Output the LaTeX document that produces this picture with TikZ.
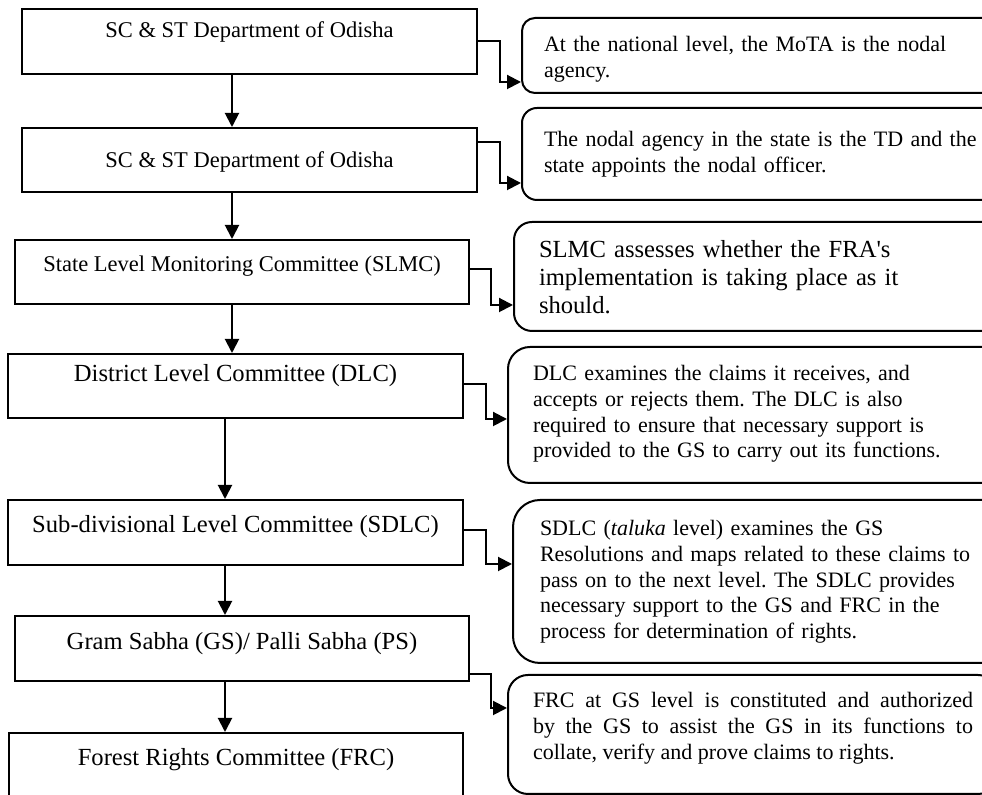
\documentclass[tikz,border=0pt]{standalone}
\usepackage{fontspec}
\setmainfont{Liberation Serif}
\usetikzlibrary{arrows.meta}
\tikzstyle{stage} = [draw,line width=1pt,inner sep=0pt,anchor=north west]
\tikzstyle{note} = [draw,line width=1pt,inner ysep=0pt,anchor=north west,align=left,text width=240pt]
\tikzstyle{flow} = [line width=1pt,->,>={Triangle[length=7pt,width=7pt]}]
\newcommand{\smallfont}{\fontsize{11.25}{12.8}\selectfont}
\newcommand{\notefont}{\fontsize{11}{12.8}\selectfont\frenchspacing}
\newcommand{\bigfont}{\fontsize{12.3}{13.8}\selectfont\frenchspacing}

\begin{document}
\begin{tikzpicture}[x=0.5pt,y=-0.5pt]
  \useasboundingbox (0,0) rectangle (982,795);
  \clip (0,0) rectangle (982,795);

  % levels
  \node[stage,font=\smallfont,minimum width=227.5pt,text height=14.5pt,text depth=18pt] (b1) at (21,8) {SC \& ST Department of Odisha};
  \node[stage,font=\smallfont,minimum width=227.5pt,text height=20pt,text depth=12pt] (b2) at (21,127) {SC \& ST Department of Odisha};
  \node[stage,font=\smallfont,minimum width=227pt,text height=16pt,text depth=16pt] (b3) at (14,239) {State Level Monitoring Committee (SLMC)};
  \node[stage,font=\bigfont,minimum width=227.5pt,text height=14pt,text depth=18pt] (b4) at (7,353) {District Level Committee (DLC)};
  \node[stage,font=\bigfont,minimum width=227.5pt,text height=16.5pt,text depth=16pt] (b5) at (7,499) {Sub-divisional Level Committee (SDLC)};
  \node[stage,font=\bigfont,minimum width=227pt,text height=17pt,text depth=15.5pt] (b6) at (14,615) {Gram Sabha (GS)/ Palli Sabha (PS)};
  \node[stage,font=\bigfont,minimum width=227pt,text height=16.5pt,text depth=18.5pt] (b7) at (8,732) {Forest Rights Committee (FRC)};

  % remarks
  \node[note,font=\notefont,inner xsep=11pt,rounded corners=6.5pt,text height=17pt,text depth=20.5pt] (r1) at (521,17)
    {At the national level, the MoTA is the nodal\\agency.};
  \node[note,font=\notefont,inner xsep=11pt,rounded corners=7.5pt,text height=19.5pt,text depth=26.5pt] (r2) at (521,107)
    {The nodal agency in the state is the TD and the\\state appoints the nodal officer.};
  \node[note,font=\bigfont,inner xsep=12.5pt,rounded corners=9pt,text height=18pt,text depth=36.5pt] (r3) at (513,221)
    {SLMC assesses whether the FRA\textquotesingle s\\implementation is taking place as it\\should.};
  \node[note,font=\notefont,inner xsep=12.5pt,rounded corners=11pt,text height=17pt,text depth=51pt] (r4) at (507,346)
    {DLC examines the claims it receives, and\\accepts or rejects them. The DLC is also\\required to ensure that necessary support is\\provided to the GS to carry out its functions.};
  \node[note,font=\notefont,inner xsep=13.5pt,rounded corners=13.5pt,text height=18pt,text depth=63.5pt] (r5) at (512,499)
    {SDLC (\textit{taluka} level) examines the GS\\Resolutions and maps related to these claims to\\pass on to the next level. The SDLC provides\\necessary support to the GS and FRC in the\\process for determination of rights.};
  \node[note,font=\notefont,inner xsep=12.5pt,rounded corners=10pt,text height=16.5pt,text depth=43pt,text width=220pt,align=justify] (r6) at (507,674)
    {FRC at GS level is constituted and authorized\linebreak by the GS to assist the GS in its functions to\linebreak collate, verify and prove claims to rights.};

  % down the chain
  \draw[flow] ([xshift=-8.75pt]b1.south) -- ([xshift=-8.75pt]b2.north);
  \draw[flow] ([xshift=-8.75pt]b2.south) -- ([xshift=-5pt]b3.north);
  \draw[flow] ([xshift=-5pt]b3.south) -- ([xshift=-1.75pt]b4.north);
  \draw[flow] ([xshift=-5.25pt]b4.south) -- ([xshift=-5.25pt]b5.north);
  \draw[flow] ([xshift=-5.25pt]b5.south) -- ([xshift=-8.5pt]b6.north);
  \draw[flow] ([xshift=-8.5pt]b6.south) -- ([xshift=-5.5pt]b7.north);

  % levels to remarks
  \draw[flow] (b1.east) -- ++(11pt,0) |- ([yshift=-13.25pt]r1.west);
  \draw[flow] ([yshift=9pt]b2.east) -- ++(11pt,0) |- ([yshift=-14.5pt]r2.west);
  \draw[flow] ([yshift=1.5pt]b3.east) -- ++(10.5pt,0) |- ([yshift=-14.25pt]r3.west);
  \draw[flow] ([yshift=1pt]b4.east) -- ++(11pt,0) |- ([yshift=-2pt]r4.west);
  \draw[flow] ([yshift=1.25pt]b5.east) -- ++(11pt,0) |- ([yshift=8.75pt]r5.west);
  \draw[flow] ([yshift=-12.75pt]b6.east) -- ++(10.5pt,0) |- ([yshift=13.25pt]r6.west);
\end{tikzpicture}
\end{document}
